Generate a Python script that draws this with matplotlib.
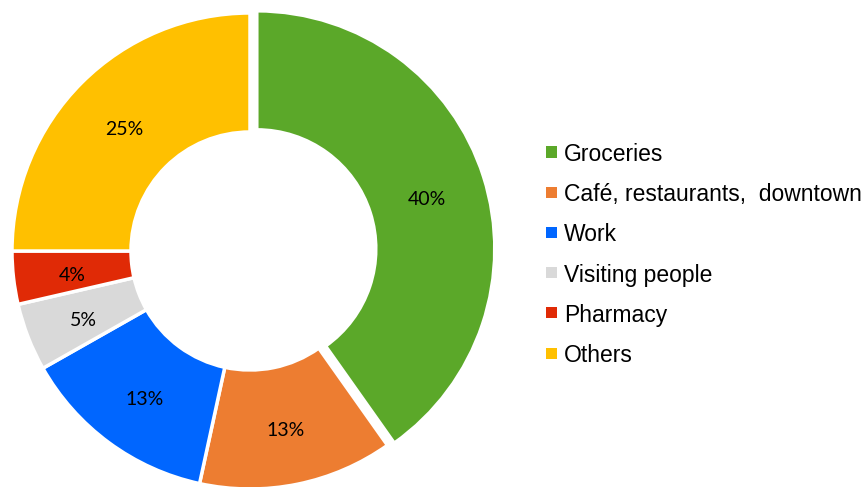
import matplotlib as mpl
mpl.use('Agg')
import matplotlib.pyplot as plt
from matplotlib.patches import Rectangle
import numpy as np

categories = ["Groceries", "Café, restaurants,  downtown", "Work",
              "Visiting people", "Pharmacy", "Others"]
shares = [40.2, 13.2, 13.4, 4.6, 3.6, 25.0]
colours = ["#5BA829", "#ED7D31", "#0066FF", "#D9D9D9", "#E02A06", "#FFC000"]
explode = [0.03, 0, 0, 0, 0, 0]

W, H = 868, 487
fig = plt.figure(figsize=(W / 100, H / 100), dpi=100)

# pie centre at (250, 251) px, radius 238 px
cx, cy, r = 250, 251, 238
ax = fig.add_axes([(cx - r) / W, (H - cy - r) / H, 2 * r / W, 2 * r / H])
wedges, texts = ax.pie(shares, colors=colours, startangle=90, counterclock=False,
                       explode=explode, radius=1.0,
                       wedgeprops=dict(width=0.5, edgecolor="white", linewidth=2.5))
for w in wedges:
    w.set_clip_on(False)
ax.set_xlim(-1, 1)
ax.set_ylim(-1, 1)
ax.set_aspect("equal")
ax.axis("off")

# percentage labels in the middle of the ring (nudged down a little)
total = float(sum(shares))
angle = 90.0
for share, ex in zip(shares, explode):
    theta = np.deg2rad(angle - 360 * share / total / 2)
    d = 0.75 + ex
    ax.text(d * np.cos(theta), d * np.sin(theta) - 0.02,
            "%d%%" % round(share / total * 100),
            ha="center", va="center", fontsize=14, family=["Lato", "DejaVu Sans"])
    angle -= 360 * share / total

# legend drawn by hand
y0 = 152
step = 40.2
for i, (name, col) in enumerate(zip(categories, colours)):
    y = y0 + i * step
    fig.add_artist(Rectangle((546 / W, (H - y - 5.5) / H), 11 / W, 11 / H,
                             transform=fig.transFigure, color=col, lw=0))
    fig.text(564 / W, (H - y) / H, name, ha="left", va="center_baseline",
             fontsize=16.5, family="Liberation Sans")

fig.savefig("out.png", dpi=100)
